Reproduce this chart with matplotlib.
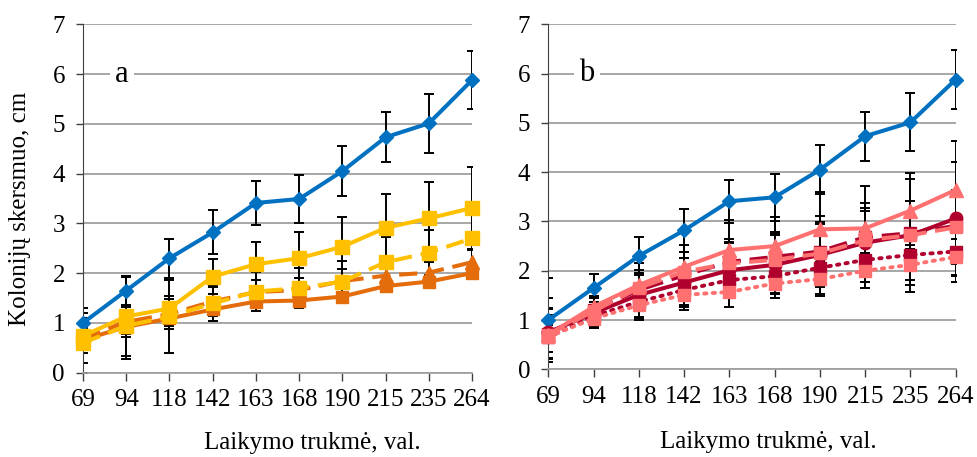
import matplotlib
matplotlib.use("Agg")
import matplotlib.pyplot as plt
import numpy as np

plt.rcParams["font.family"] = ["Liberation Serif", "DejaVu Serif"]

hours = ["69", "94", "118", "142", "163", "168", "190", "215", "235", "264"]

# shared control series (blue)
control = [1.00, 1.65, 2.30, 2.82, 3.41, 3.49, 4.05, 4.73, 5.01, 5.88]
control_err = [0.10, 0.29, 0.39, 0.44, 0.44, 0.48, 0.50, 0.50, 0.59, 0.59]

# panel a
a_yellow = [0.74, 1.13, 1.29, 1.93, 2.18, 2.30, 2.53, 2.91, 3.10, 3.31]
a_yellow_err = [0.55, 0.80, 0.26, 0.35, 0.45, 0.53, 0.60, 0.67, 0.73, 0.82]
a_yellow_dash = [0.60, 0.94, 1.13, 1.39, 1.63, 1.70, 1.83, 2.22, 2.41, 2.70]
a_yellow_dash_err = [0.60, 0.67, 0.73, 0.35, 0.40, 0.40, 0.42, 0.50, 0.45, 0.55]
a_orange_dash = [0.70, 1.02, 1.18, 1.43, 1.62, 1.66, 1.84, 1.95, 2.01, 2.22]
a_orange_dash_err = [0.30, 0.30, 0.30, 0.30, 0.25, 0.25, 0.25, 0.25, 0.22, 0.25]
a_orange = [0.66, 0.92, 1.09, 1.27, 1.43, 1.45, 1.53, 1.74, 1.83, 2.00]
a_orange_err = [0.15, 0.15, 0.15, 0.10, 0.10, 0.10, 0.10, 0.12, 0.12, 0.10]

# panel b
b_pink_tri = [0.70, 1.27, 1.71, 2.08, 2.42, 2.50, 2.84, 2.86, 3.22, 3.64]
b_pink_tri_err = [0.75, 0.35, 0.45, 0.45, 0.60, 0.60, 0.75, 0.85, 0.77, 1.00]
b_red_circ = [0.75, 1.14, 1.51, 1.76, 2.01, 2.12, 2.32, 2.57, 2.72, 3.06]
b_red_circ_err = [1.10, 0.30, 0.50, 0.50, 0.55, 0.60, 0.80, 0.80, 1.15, 1.15]
b_red_dash = [0.72, 1.20, 1.61, 1.91, 2.18, 2.28, 2.39, 2.68, 2.76, 2.91]
b_red_dash_err = [0.50, 0.25, 0.35, 0.35, 0.40, 0.50, 0.60, 0.60, 0.65, 0.70]
b_pink_dash = [0.70, 1.18, 1.65, 1.98, 2.15, 2.22, 2.35, 2.62, 2.72, 2.88]
b_pink_dash_err = [0.55, 0.30, 0.30, 0.40, 0.50, 0.55, 0.60, 0.60, 0.70, 0.75]
b_red_dot = [0.65, 1.08, 1.37, 1.61, 1.81, 1.89, 2.06, 2.22, 2.32, 2.39]
b_red_dot_err = [0.30, 0.20, 0.30, 0.30, 0.35, 0.35, 0.40, 0.45, 0.50, 0.50]
b_pink_dot = [0.66, 1.03, 1.30, 1.51, 1.57, 1.74, 1.83, 2.00, 2.12, 2.28]
b_pink_dot_err = [0.45, 0.20, 0.25, 0.30, 0.30, 0.30, 0.35, 0.35, 0.40, 0.50]

BLUE = "#0070C0"
YELLOW = "#FFC000"
ORANGE = "#E46C0A"
PINK = "#FF7070"
DARKRED = "#B0002E"

FS = 18

fig = plt.figure(figsize=(9.78, 4.57), dpi=100)
ax_a = fig.add_axes([0.0849, 0.1845, 0.3978, 0.7624])
ax_b = fig.add_axes([0.5606, 0.1919, 0.4166, 0.7549])

x = np.arange(len(hours))


def draw(ax, y, err, color, ls, marker, ms, dashes=None):
    ax.errorbar(x, y, yerr=err, fmt="none", ecolor="black", elinewidth=1.4,
                capsize=3.5, capthick=1.4, zorder=2)
    kw = dict(color=color, lw=2.9, ls=ls, marker=marker, ms=ms,
              markeredgecolor=color, clip_on=False, zorder=3)
    if dashes is not None:
        kw["dashes"] = dashes
    if ls == ":":
        kw["dashes"] = (0.6, 1.6)
        kw["dash_capstyle"] = "round"
        kw["lw"] = 2.8
    ax.plot(x, y, **kw)


draw(ax_a, control, control_err, BLUE, "-", "D", 7.5)
draw(ax_a, a_orange, a_orange_err, ORANGE, "-", "s", 9)
draw(ax_a, a_orange_dash, a_orange_dash_err, ORANGE, "--", "^", 9.5, dashes=(4.5, 2.2))
draw(ax_a, a_yellow_dash, a_yellow_dash_err, YELLOW, "--", "s", 10, dashes=(4.5, 2.2))
draw(ax_a, a_yellow, a_yellow_err, YELLOW, "-", "s", 10)

draw(ax_b, control, control_err, BLUE, "-", "D", 7.5)
draw(ax_b, b_red_dot, b_red_dot_err, DARKRED, ":", "s", 8)
draw(ax_b, b_red_circ, b_red_circ_err, DARKRED, "-", "o", 9)
draw(ax_b, b_red_dash, b_red_dash_err, DARKRED, "--", "s", 9, dashes=(4.5, 2.2))
draw(ax_b, b_pink_dash, b_pink_dash_err, PINK, "--", "s", 8, dashes=(4.5, 2.2))
draw(ax_b, b_pink_tri, b_pink_tri_err, PINK, "-", "^", 10)
draw(ax_b, b_pink_dot, b_pink_dot_err, PINK, ":", "s", 9)

for ax, tag, tx in [(ax_a, "a", 0.9), (ax_b, "b", 0.85)]:
    ax.set_xlim(0, len(hours) - 1)
    ax.set_ylim(0, 7)
    ax.set_yticks(range(0, 8))
    ax.set_xticks(x)
    ax.set_xticklabels(hours)
    ax.yaxis.grid(True, color="#A0A0A0", lw=1.3)
    ax.set_axisbelow(True)
    for s in ("top", "right"):
        ax.spines[s].set_visible(False)
    ax.spines["left"].set_color("#404040")
    ax.spines["bottom"].set_color("#A0A0A0")
    ax.spines["bottom"].set_linewidth(1.3)
    ax.tick_params(axis="x", length=6, width=1, color="#404040", labelsize=FS, pad=6)
    ax.tick_params(axis="y", length=5, width=1, color="#404040", labelsize=FS, pad=8)
    ax.set_xlabel("Laikymo trukmė, val.", fontsize=18)
    ax.text(tx, 6, tag, fontsize=22, ha="center", va="center", zorder=1.5,
            bbox=dict(facecolor="white", edgecolor="none", pad=4))

ax_a.xaxis.set_label_coords(0.59, -0.17)
ax_b.xaxis.set_label_coords(0.54, -0.18)

ax_a.set_ylabel("Kolonijų skersmuo, cm", fontsize=18)
ax_a.yaxis.set_label_coords(-0.135, 0.47)

fig.savefig("out.png", dpi=100)
